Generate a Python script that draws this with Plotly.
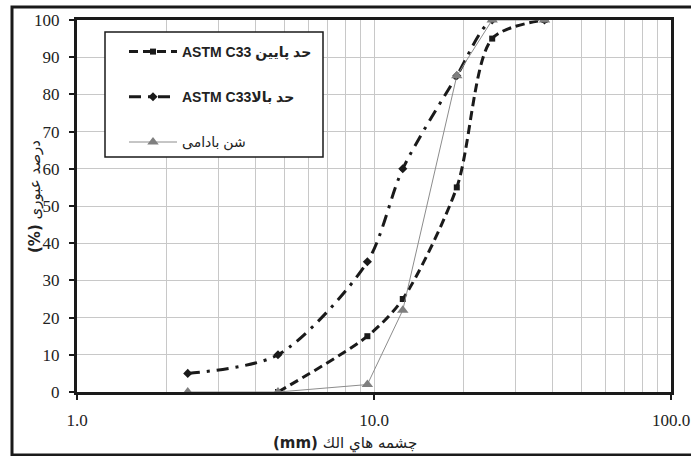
import plotly.graph_objects as go

# Sieve openings (mm) and percent passing
sieve_lower = [4.75, 9.5, 12.5, 19, 25, 37.5]
pass_lower = [0, 15, 25, 55, 95, 100]

sieve_upper = [2.36, 4.75, 9.5, 12.5, 19, 25, 37.5]
pass_upper = [5, 10, 35, 60, 85, 100, 100]

sieve_gravel = [2.36, 4.75, 9.5, 12.5, 19, 25, 37.5]
pass_gravel = [0, 0, 2, 22, 85, 100, 100]

x_tickvals = [1, 10, 100]
x_ticktext = ["1.0", "10.0", "100.0"]

name_lower = "<b>ASTM C33 حد پایین</b>"
name_upper = "<b>ASTM C33حد بالا</b>"
name_gravel = "شن بادامی"

fig = go.Figure()

fig.add_trace(go.Scatter(
    x=sieve_lower, y=pass_lower, name=name_lower, legendgroup="a",
    mode="lines+markers", line=dict(color="#1a1a1a", width=3, dash="9px,5px", shape="spline", smoothing=0.8),
    marker=dict(symbol="square", size=6, color="#1a1a1a"),
))
fig.add_trace(go.Scatter(
    x=sieve_upper, y=pass_upper, name=name_upper, legendgroup="b",
    mode="lines+markers", line=dict(color="#1a1a1a", width=3, dash="12px,7px,3px,7px", shape="spline", smoothing=0.8),
    marker=dict(symbol="diamond", size=7, color="#1a1a1a"),
))
fig.add_trace(go.Scatter(
    x=sieve_gravel, y=pass_gravel, name=name_gravel, legendgroup="c",
    mode="lines+markers", line=dict(color="#8c8c8c", width=1),
    marker=dict(symbol="triangle-up", size=10, color="#7f7f7f"),
))

grid_c = "#c8c8c8"
tick_font = dict(family="Liberation Serif, DejaVu Serif, serif", size=17, color="#222")

fig.update_xaxes(
    type="log", range=[0, 2], automargin=False,
    tickvals=x_tickvals, ticktext=x_ticktext,
    showgrid=True, gridcolor=grid_c, gridwidth=1,
    minor=dict(dtick="D1", showgrid=True, gridcolor=grid_c, gridwidth=1, ticks=""),
    showline=True, linecolor="#1a1a1a", linewidth=3, mirror=True,
    ticks="outside", ticklen=5, tickwidth=2, tickcolor="#1a1a1a",
    tickfont=tick_font, ticklabelstandoff=6, zeroline=False,
)
fig.update_yaxes(
    range=[0, 100], dtick=10, automargin=False,
    showgrid=True, gridcolor=grid_c, gridwidth=1,
    showline=True, linecolor="#1a1a1a", linewidth=3, mirror=True,
    ticks="outside", ticklen=5, tickwidth=2, tickcolor="#1a1a1a",
    tickfont=tick_font, ticklabelstandoff=6, zeroline=False,
)

W, H = 691, 456
ml, mr, mt, mb = 77, 20, 20, 64
pw, ph = W - ml - mr, H - mt - mb

def px_x(p):
    return (p - ml) / pw

def px_y(p):
    return (H - mb - p) / ph

title_font = dict(family="DejaVu Sans, sans-serif", size=15, color="#222")

# Axis titles
fig.add_annotation(text="<b>(mm)</b> چشمه هاي الك", xref="paper", yref="paper",
                   x=px_x(345), y=px_y(443), showarrow=False, font=title_font,
                   xanchor="center", yanchor="middle")
fig.add_annotation(text="<b>(%)</b> درصد عبوری", xref="paper", yref="paper",
                   x=px_x(35), y=px_y(197), showarrow=False, font=title_font,
                   textangle=-90, xanchor="center", yanchor="middle")

# Outer frame and legend box
fig.add_shape(type="rect", xref="paper", yref="paper",
              x0=px_x(12), x1=px_x(700), y0=px_y(455), y1=px_y(7),
              line=dict(color="#1a1a1a", width=3), layer="above")
fig.add_shape(type="rect", xref="paper", yref="paper",
              x0=px_x(105), x1=px_x(323), y0=px_y(157), y1=px_y(32),
              line=dict(color="#1a1a1a", width=1.5), fillcolor="white", layer="above")

fig.update_layout(
    width=W, height=H,
    margin=dict(l=ml, r=mr, t=mt, b=mb),
    paper_bgcolor="white", plot_bgcolor="white",
    showlegend=True,
    legend=dict(
        x=px_x(124), y=px_y(36), xanchor="left", yanchor="top",
        bgcolor="rgba(0,0,0,0)", borderwidth=0,
        traceorder="grouped", tracegroupgap=24, itemwidth=48,
        font=dict(family="Liberation Sans, Arial, DejaVu Sans, sans-serif", size=14, color="#222"),
    ),
)

fig.write_html("out.html")
